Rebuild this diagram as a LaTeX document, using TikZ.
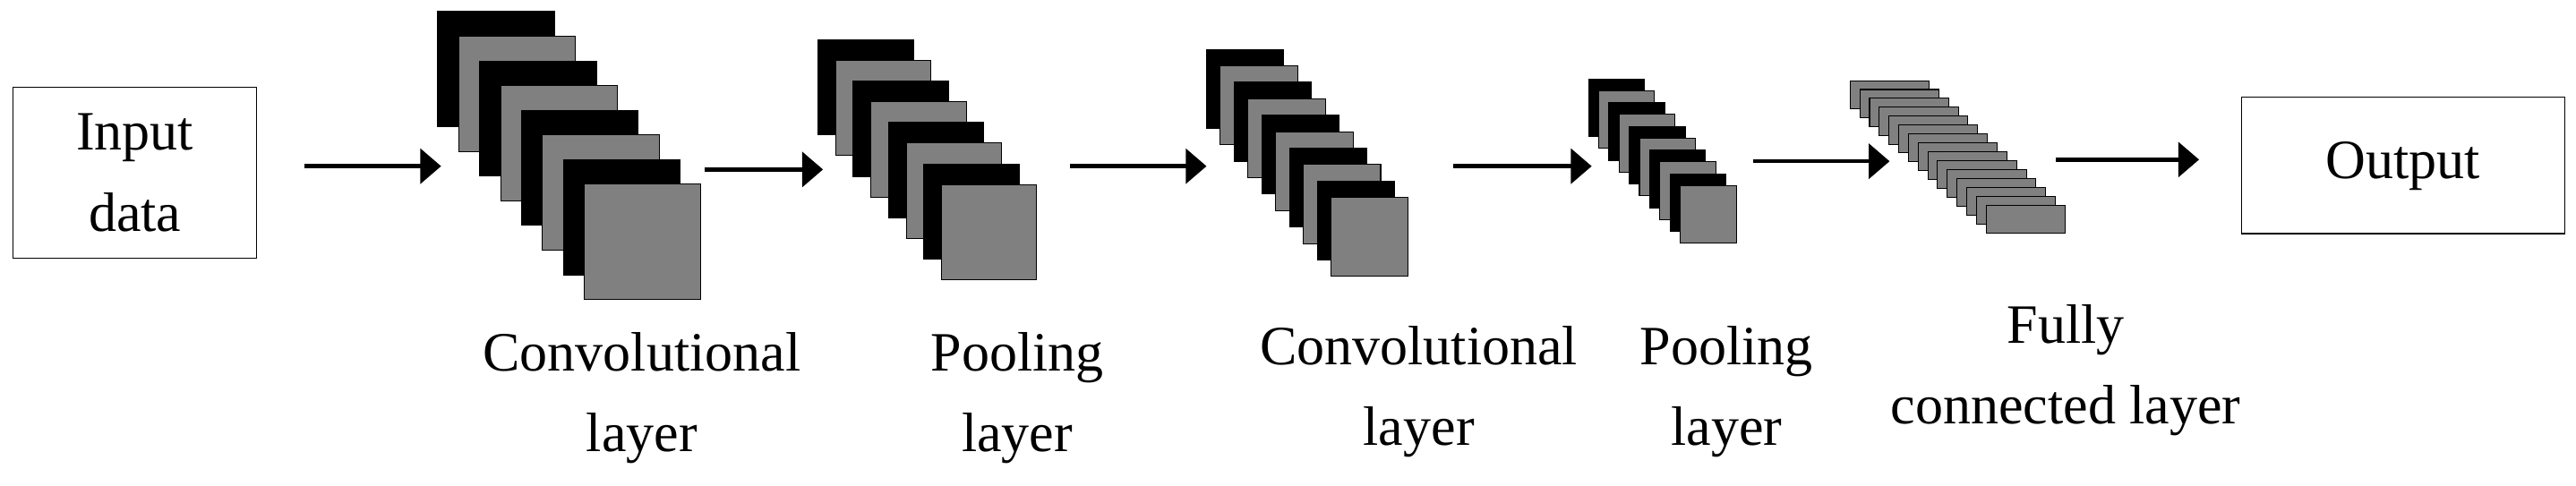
\documentclass[tikz,border=0pt]{standalone}
\usepackage{fontspec}
\setmainfont{Liberation Serif}
\usetikzlibrary{arrows.meta}
\begin{document}
\begin{tikzpicture}[x=0.5mm,y=-0.5mm,
  box/.style={draw,line width=1pt,minimum width=#1,inner sep=0pt},
  lbl/.style={font=\fontsize{48}{70}\selectfont,align=center},
  arr/.style={line width=3.5pt,-{Triangle[length=18pt,width=30pt]}},
  fm/.style={draw=black,line width=0.8pt,fill=#1}]
\useasboundingbox (0,0) rectangle (1565,295);
\draw[line width=1pt] (8,53) rectangle (156,157);
\node[lbl] (in) at (82,105) {Input\\data};
\draw[line width=1pt] (1362,59) rectangle (1558,142);
\node[lbl] (out) at (1460,101) {Output};
% stacks: #x0,#y0,w,h,dx,dy,n
\foreach \i in {0,...,7}{
  \pgfmathsetmacro\c{mod(\i,2)==0?"black":"gray"}
  \draw[fm=\c] (266+12.7*\i,7+15*\i) rectangle ++(71,70);}
\foreach \i in {0,...,7}{
  \pgfmathsetmacro\c{mod(\i,2)==0?"black":"gray"}
  \draw[fm=\c] (497+10.7*\i,24+12.6*\i) rectangle ++(58,58);}
\foreach \i in {0,...,9}{
  \pgfmathsetmacro\c{mod(\i,2)==0?"black":"gray"}
  \draw[fm=\c] (733+8.4*\i,30+10*\i) rectangle ++(47,48);}
\foreach \i in {0,...,9}{
  \pgfmathsetmacro\c{mod(\i,2)==0?"black":"gray"}
  \draw[fm=\c] (965+6.2*\i,48+7.2*\i) rectangle ++(34,35);}
\foreach \i in {0,...,14}{
  \draw[fm=gray] (1124+5.9*\i,49+5.4*\i) rectangle ++(48,17);}
\coordinate (a1) at (185,101); \coordinate (b1) at (268,101);
\coordinate (a2) at (428,103); \coordinate (b2) at (500,103);
\coordinate (a3) at (650,101); \coordinate (b3) at (733,101);
\coordinate (a4) at (883,101); \coordinate (b4) at (967,101);
\coordinate (a5) at (1065,98); \coordinate (b5) at (1148,98);
\coordinate (a6) at (1249,97); \coordinate (b6) at (1336,97);
\foreach \k in {1,...,6} \draw[arr] (a\k) -- (b\k);
\node[lbl] (l1) at (390,242) {Convolutional\\layer};
\node[lbl] (l2) at (618,242) {Pooling\\layer};
\node[lbl] (l3) at (862,238) {Convolutional\\layer};
\node[lbl] (l4) at (1049,238) {Pooling\\layer};
\node[lbl] (l5) at (1255,225) {Fully\\connected layer};
\end{tikzpicture}
\end{document}
